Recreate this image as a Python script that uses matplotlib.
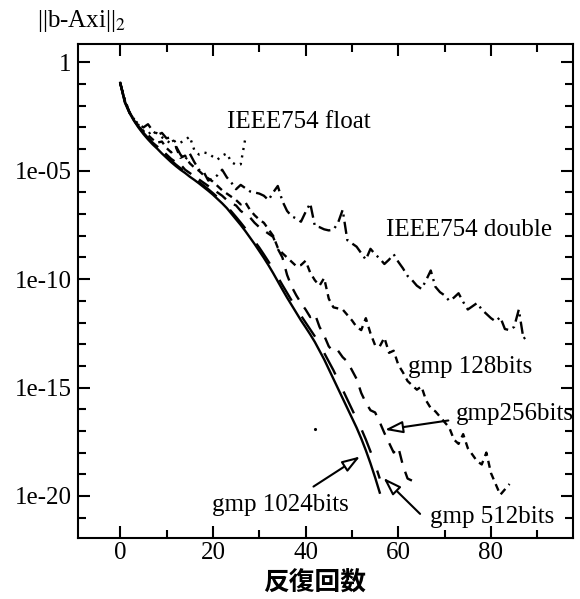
import numpy as np
import matplotlib
matplotlib.use("Agg")
import matplotlib.pyplot as plt

plt.rcParams['font.family'] = ['Liberation Serif', 'DejaVu Serif']
plt.rcParams['mathtext.fontset'] = 'stix'

# log10 of residual norm per iteration
log_float = [-0.94, -1.7, -2.3, -2.62, -2.9, -3.15, -3.3, -3.18, -3.28, -3.45,
             -3.6, -3.75, -3.6, -3.7, -3.58, -3.42, -4.05, -4.25, -4.15, -4.2,
             -4.35, -4.48, -4.3, -4.2, -4.6, -4.72, -4.7, -3.5]

log_double = [-0.94, -1.76, -2.3, -2.64, -2.85, -3.0, -2.85, -3.15, -3.35, -3.25,
              -3.5, -3.45, -3.85, -4.25, -4.5, -4.2, -4.6, -4.95, -5.05, -5.45,
              -5.35, -5.2, -4.95, -5.3, -5.55, -5.85, -5.65, -5.8, -5.95, -6.0,
              -6.05, -6.15, -6.35, -6.0, -5.7, -6.4, -6.85, -7.1, -7.2, -7.35,
              -6.9, -6.5, -7.55, -7.6, -7.7, -7.75, -7.72, -7.4, -6.8, -8.2,
              -8.35, -8.5, -8.8, -9.1, -8.6, -8.85, -9.05, -9.3, -9.1, -8.85,
              -9.2, -9.5, -9.85, -10.05, -10.3, -10.45, -10.05, -9.6, -10.35, -10.6,
              -10.75, -11.0, -10.85, -10.65, -11.05, -11.4, -11.25, -11.1, -11.4, -11.6,
              -11.8, -11.95, -11.75, -12.3, -12.35, -12.2, -11.4, -12.75, -12.6]

log_gmp128 = [-0.94, -1.78, -2.3, -2.68, -2.95, -3.2, -3.35, -3.55, -3.7, -3.65,
              -3.95, -4.15, -3.9, -4.4, -4.3, -4.65, -4.85, -5.0, -5.2, -5.35,
              -5.5, -5.7, -5.9, -6.05, -6.2, -6.35, -6.55, -6.45, -6.8, -7.05,
              -7.25, -7.4, -7.7, -8.0, -8.55, -8.8, -9.0, -9.2, -9.4, -9.35,
              -9.15, -9.7, -10.05, -10.3, -9.95, -10.9, -11.3, -11.35, -11.4, -11.65,
              -11.9, -12.2, -12.35, -11.8, -12.5, -13.05, -13.1, -12.7, -13.4, -13.3,
              -13.95, -14.3, -14.7, -14.9, -15.1, -14.95, -15.6, -15.95, -16.1, -16.35,
              -16.6, -16.85, -17.4, -17.6, -17.15, -17.8, -18.1, -18.4, -18.55, -18.0,
              -18.95, -19.45, -19.95, -19.7, -19.45]

log_gmp256 = [-0.94, -1.8, -2.3, -2.68, -2.98, -3.25, -3.48, -3.7, -3.88, -4.05,
              -4.25, -4.45, -4.6, -4.7, -4.95, -5.1, -5.25, -5.4, -5.55, -5.7,
              -5.85, -6.0, -6.15, -6.35, -6.5, -6.6, -6.85, -7.0, -7.15, -7.4,
              -7.6, -7.75, -7.9, -8.05, -8.6, -9.0, -9.8, -10.35, -10.75, -11.1,
              -11.4, -11.75, -11.6, -12.2, -12.6, -13.1, -13.35, -13.3, -13.6, -13.8,
              -14.2, -14.6, -15.25, -15.7, -16.05, -16.15, -16.6, -17.1, -17.55, -18.0,
              -17.75, -18.6, -19.2, -19.3, -19.6]

log_gmp512 = [-0.94, -1.8, -2.28, -2.66, -2.97, -3.24, -3.48, -3.7, -3.9, -4.1,
              -4.32, -4.52, -4.71, -4.88, -5.04, -5.2, -5.36, -5.52, -5.68, -5.85,
              -6.03, -6.22, -6.42, -6.63, -6.88, -7.13, -7.39, -7.66, -7.95, -8.25,
              -8.54, -8.86, -9.19, -9.53, -9.9, -10.27, -10.63, -10.99, -11.34, -11.68,
              -12.0, -12.32, -12.64, -12.98, -13.4, -13.8, -14.2, -14.65, -15.1, -15.55,
              -16.0, -16.45, -16.9, -17.4, -17.95, -18.55, -19.2]

log_gmp1024 = [-0.94, -1.85, -2.33, -2.7, -3.02, -3.3, -3.55, -3.78, -3.98, -4.2,
               -4.4, -4.6, -4.78, -4.95, -5.1, -5.27, -5.42, -5.58, -5.75, -5.92,
               -6.1, -6.3, -6.5, -6.72, -6.98, -7.24, -7.5, -7.78, -8.08, -8.38,
               -8.7, -9.02, -9.36, -9.72, -10.1, -10.48, -10.85, -11.2, -11.55, -11.9,
               -12.22, -12.55, -12.9, -13.3, -13.7, -14.15, -14.6, -15.05, -15.5, -15.95,
               -16.4, -16.85, -17.35, -17.9, -18.5, -19.15, -19.85]

stray_x = [42]
stray_log = [-16.9]

xticks = [0, 20, 40, 60, 80]
xminor = [10, 30, 50, 70, 90]
ytick_exp = [0, -5, -10, -15, -20]
ytick_labels = ['1', '1e-05', '1e-10', '1e-15', '1e-20']

fig = plt.figure(figsize=(5.8, 5.99), dpi=100)
ax = fig.add_axes([0.1353, 0.1023, 0.8527, 0.8242])

lw = 1.7
series = [
    (log_float, (0, (0.9, 2.3))),
    (log_double, (0, (5.2, 2.2, 0.9, 2.2))),
    (log_gmp128, (0, (3.0, 2.2))),
    (log_gmp256, (0, (5.1, 4.0))),
    (log_gmp512, (0, (10.2, 8.0))),
    (log_gmp1024, '-'),
]
for vals, ls in series:
    v = np.array(vals)
    ax.plot(np.arange(len(v)), 10.0 ** v, color='black', lw=lw, linestyle=ls)

ax.plot(stray_x, 10.0 ** np.array(stray_log), 'k.', ms=2.5)

ax.set_yscale('log')
ax.set_xlim(-9, 97.7)
ax.set_ylim(10 ** -21.93, 10 ** 0.85)

ax.set_xticks(xticks)
ax.set_xticks(xminor, minor=True)
ax.set_yticks([10.0 ** e for e in ytick_exp], labels=ytick_labels)
ax.set_yticks([10.0 ** e for e in range(-21, 1)], minor=True)
ax.yaxis.set_minor_formatter(matplotlib.ticker.NullFormatter())

ax.tick_params(which='both', direction='in', top=True, right=True, width=1.5,
               labelsize=18)
ax.tick_params(which='major', length=8.5)
ax.tick_params(which='minor', length=5.5)
ax.tick_params(axis='x', pad=3)
ax.tick_params(axis='y', pad=5)
for s in ax.spines.values():
    s.set_linewidth(1.5)

fs = 18
ax.text(23.0, 10 ** -2.76, 'IEEE754 float', ha='left', va='center', fontsize=fs)
ax.text(57.4, 10 ** -7.75, 'IEEE754 double', ha='left', va='center', fontsize=fs)
ax.text(62.1, 10 ** -14.06, 'gmp 128bits', ha='left', va='center', fontsize=fs)
ax.text(72.5, 10 ** -16.21, 'gmp256bits', ha='left', va='center', fontsize=fs)
ax.text(19.8, 10 ** -20.4, 'gmp 1024bits', ha='left', va='center', fontsize=fs)
ax.text(66.8, 10 ** -20.99, 'gmp 512bits', ha='left', va='center', fontsize=fs)

aprops = dict(arrowstyle='-|>,head_length=0.6,head_width=0.2', fc='white',
              ec='black', lw=1.5, mutation_scale=18, shrinkA=0, shrinkB=0)
ax.annotate('', xy=(57.1, 10 ** -16.95), xytext=(70.8, 10 ** -16.52), arrowprops=aprops)
ax.annotate('', xy=(51.75, 10 ** -18.18), xytext=(41.7, 10 ** -19.57), arrowprops=aprops)
ax.annotate('', xy=(56.8, 10 ** -19.17), xytext=(64.7, 10 ** -20.83), arrowprops=aprops)

fig.text(36.7 / 580, 1 - 21 / 599, r'||b-Axi||$_2$', ha='left', va='center', fontsize=18)
fig.text(315 / 580, 1 - 583 / 599, '反復回数', ha='center', va='center',
         fontsize=18.5, fontweight='bold', family=['Noto Sans CJK JP', 'DejaVu Sans'])

fig.savefig('out.png', dpi=100)
